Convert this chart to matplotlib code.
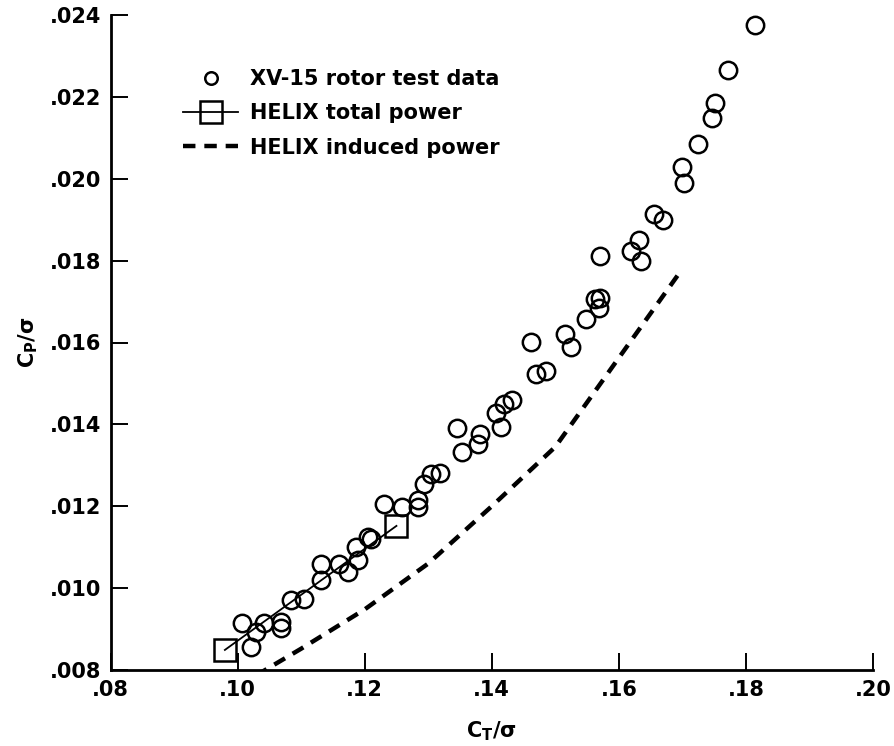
import matplotlib
matplotlib.use("Agg")
import matplotlib.pyplot as plt
import numpy as np

plt.rcParams['font.family'] = ['DejaVu Sans']
plt.rcParams['font.weight'] = 'bold'
plt.rcParams['mathtext.fontset'] = 'custom'
plt.rcParams['mathtext.rm'] = 'DejaVu Sans:bold'
plt.rcParams['mathtext.it'] = 'DejaVu Sans:bold'

# XV-15 rotor test data (CT/sigma, CP/sigma)
test_ct = [0.1007, 0.1021, 0.1029, 0.1042, 0.1068, 0.1068, 0.1084, 0.1105,
           0.1131, 0.1131, 0.1160, 0.1173, 0.1187, 0.1189, 0.1205, 0.1210,
           0.1230, 0.1258, 0.1284, 0.1284, 0.1294, 0.1305, 0.1318, 0.1345,
           0.1353, 0.1378, 0.1381, 0.1407, 0.1415, 0.1419, 0.1432, 0.1461,
           0.1469, 0.1486, 0.1516, 0.1525, 0.1549, 0.1563, 0.1570, 0.1568,
           0.1571, 0.1619, 0.1631, 0.1635, 0.1656, 0.1669, 0.1699, 0.1703,
           0.1725, 0.1747, 0.1751, 0.1772, 0.1815]
test_cp = [0.00915, 0.00855, 0.00893, 0.00915, 0.00918, 0.00902, 0.00972, 0.00973,
           0.01059, 0.01020, 0.01060, 0.01040, 0.01101, 0.01068, 0.01125, 0.01120,
           0.01205, 0.01198, 0.01215, 0.01198, 0.01255, 0.01280, 0.01281, 0.01390,
           0.01332, 0.01351, 0.01377, 0.01429, 0.01393, 0.01449, 0.01460, 0.01601,
           0.01524, 0.01530, 0.01621, 0.01589, 0.01658, 0.01707, 0.01708, 0.01685,
           0.01812, 0.01824, 0.01850, 0.01798, 0.01915, 0.01899, 0.02029, 0.01989,
           0.02086, 0.02148, 0.02186, 0.02265, 0.02376]

# HELIX total power
total_ct = [0.098, 0.125]
total_cp = [0.00849, 0.01152]

# HELIX induced power
induced_ct = [0.100, 0.110, 0.120, 0.130, 0.140, 0.150, 0.170]
induced_cp = [0.00760, 0.00852, 0.00948, 0.01060, 0.01200, 0.01345, 0.01780]

xticks = [0.08, 0.10, 0.12, 0.14, 0.16, 0.18, 0.20]
xlabels = ['.08', '.10', '.12', '.14', '.16', '.18', '.20']
yticks = [0.008, 0.010, 0.012, 0.014, 0.016, 0.018, 0.020, 0.022, 0.024]
ylabels = ['.008', '.010', '.012', '.014', '.016', '.018', '.020', '.022', '.024']

fig = plt.figure(figsize=(8.94, 7.46), dpi=100)
ax = fig.add_axes([110.5/894, 76/746, 762.5/894, 655/746])

ax.plot(test_ct, test_cp, 'o', ms=12.5, mfc='none', mec='black', mew=1.8,
        label='XV-15 rotor test data')
ax.plot(total_ct, total_cp, '-s', color='black', lw=1.3, ms=16, mfc='none',
        mec='black', mew=1.8, label='HELIX total power')
ax.plot(induced_ct, induced_cp, color='black', lw=3.2, dashes=(2.8, 2.0),
        label='HELIX induced power')

ax.set_xlim(0.08, 0.20)
ax.set_ylim(0.008, 0.024)
ax.set_xticks(xticks)
ax.set_xticklabels(xlabels)
ax.set_yticks(yticks)
ax.set_yticklabels(ylabels)
ax.tick_params(direction='in', length=12, width=1.4, labelsize=15, pad=7)
for s in ['top', 'right']:
    ax.spines[s].set_visible(False)
for s in ['left', 'bottom']:
    ax.spines[s].set_linewidth(2)

ax.set_xlabel('C$_{\\mathrm{T}}$/σ', fontsize=15, fontweight='bold', labelpad=14)
ax.set_ylabel('C$_{\\mathrm{P}}$/σ', fontsize=15, fontweight='bold', labelpad=7)

leg = ax.legend(loc='upper left', bbox_to_anchor=(0.0845, 0.93), frameon=False,
                fontsize=15, handlelength=2.65, handletextpad=0.55,
                labelspacing=0.68, borderaxespad=0)
leg.legend_handles[0].set_markersize(9)

fig.savefig('out.png', dpi=100)
